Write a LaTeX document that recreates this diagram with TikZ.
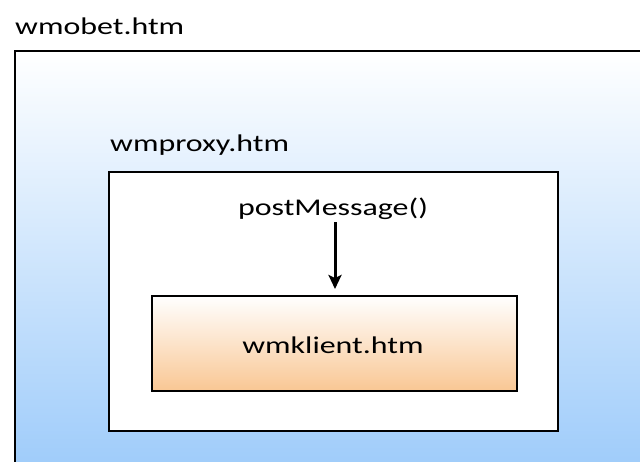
\documentclass[tikz,border=0pt]{standalone}
\usepackage{fontspec}
\setmainfont{Carlito}[FakeStretch=1.33]
\usetikzlibrary{arrows.meta}

\tikzstyle{page-box}=[rectangle, draw=black, line width=1.5pt, inner sep=0pt, anchor=north west]
\tikzstyle{page-label}=[inner sep=0pt, font=\fontsize{24}{28}\selectfont]
\tikzstyle{message-arrow}=[draw=black, line width=3pt, -{Stealth[length=14pt, width=13pt, inset=3pt]}]
\definecolor{FrameBlue}{HTML}{9DCBFA}
\definecolor{KlientPeach}{HTML}{F9C794}

\begin{document}
\begin{tikzpicture}[x=1pt, y=-1pt]
      \useasboundingbox (0,0) rectangle (640,461);
      \clip (0,0) rectangle (640,461);

      % outer page
      \node (wmobet) at (14,50)
            [page-box, top color=white, middle color={FrameBlue!55}, bottom color={FrameBlue}, minimum width=650pt, minimum height=425pt] {};
      \node (wmobet-label) at (15,34) [page-label, anchor=base west] {wmobet.htm};

      % proxy page
      \node (wmproxy) at (108,171)
            [page-box, fill=white, minimum width=449pt, minimum height=259pt] {};
      \node (wmproxy-label) at (110,151) [page-label, anchor=base west] {wmproxy.htm};

      % client page
      \node (wmklient) at (151,295)
            [page-box, top color=white, bottom color={KlientPeach}, minimum width=365pt, minimum height=95pt] {};
      \node (wmklient-label) at (333,353) [page-label, anchor=base] {wmklient.htm};

      \node (postmessage) at (333,215) [page-label, anchor=base] {postMessage()};
      \coordinate (arrowstart) at ([xshift=2pt, yshift=-3pt]postmessage.south);
      \coordinate (arrowend) at ([yshift=6pt]arrowstart |- wmklient.north);
      \draw[message-arrow] (arrowstart) -- (arrowend);
\end{tikzpicture}
\end{document}
